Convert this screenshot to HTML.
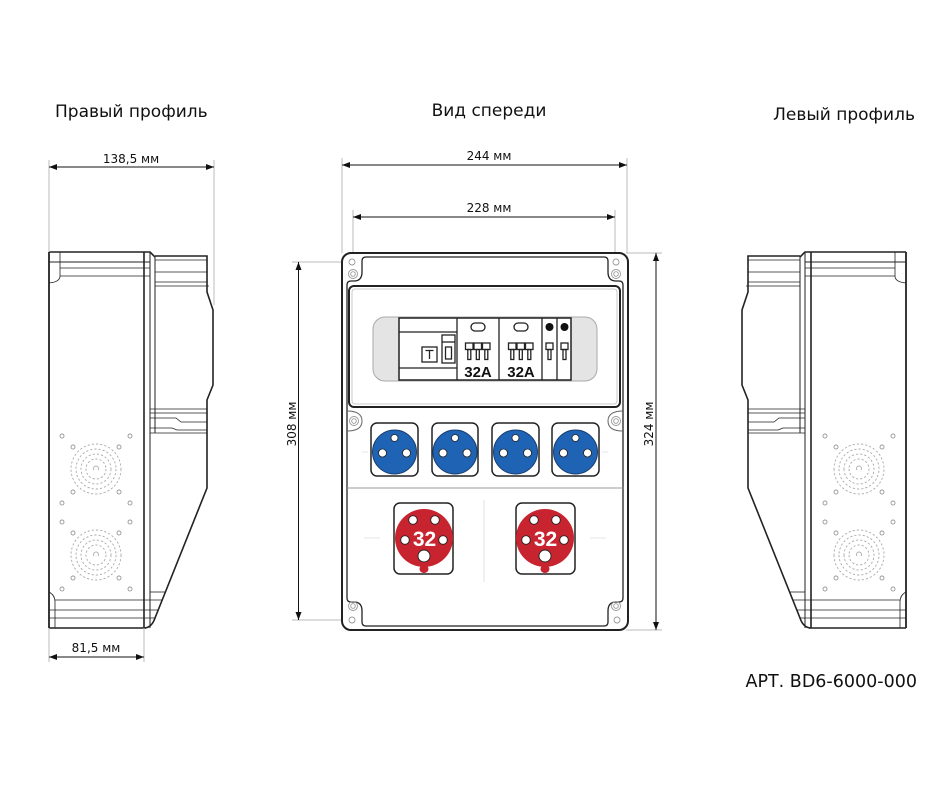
<!DOCTYPE html>
<html><head><meta charset="utf-8"><style>
html,body{margin:0;padding:0;background:#fff;}
svg{display:block;}
text{font-family:"DejaVu Sans","Liberation Sans",sans-serif;fill:#111;}
</style></head><body>
<svg width="940" height="800" viewBox="0 0 940 800" xmlns="http://www.w3.org/2000/svg">
<defs>
<marker id="ar" viewBox="0 0 8 6" refX="8" refY="3" markerWidth="8" markerHeight="6" markerUnits="userSpaceOnUse" orient="auto-start-reverse"><path d="M0,0 L8,3 L0,6 z" fill="#111"/></marker>
<g id="vent" fill="none">
  <g stroke="#999" stroke-width="0.9">
  <circle cx="-34" cy="-33" r="2"/><circle cx="34" cy="-33" r="2"/>
  <circle cx="-23" cy="-22" r="2"/><circle cx="23" cy="-22" r="2"/>
  <circle cx="-23" cy="23" r="2"/><circle cx="23" cy="23" r="2"/>
  <circle cx="-34" cy="34" r="2"/><circle cx="34" cy="34" r="2"/>
  </g>
  <g stroke="#aaa" stroke-width="0.9" stroke-dasharray="2.2,2">
  <circle r="25"/><circle r="20"/><circle r="15"/><circle r="10"/>
  </g>
  <path d="M-2,1 A2.5,2.5 0 1 1 2,1" stroke="#aaa" stroke-width="0.9"/>
</g>
<g id="prof" fill="none" stroke="#222">
  <!-- body -->
  <path d="M49,252 L150,252 L155,257" stroke-width="1.6"/>
  <line x1="49" y1="252" x2="49" y2="628" stroke-width="1.8"/>
  <line x1="144" y1="252" x2="144" y2="628" stroke-width="1.6"/>
  <line x1="150" y1="252" x2="150" y2="628" stroke-width="1"/>
  <line x1="49" y1="628" x2="146" y2="628" stroke-width="1.6"/>
  <line x1="49" y1="262" x2="150" y2="262" stroke-width="1"/>
  <line x1="60" y1="268" x2="150" y2="268" stroke-width="0.8"/>
  <line x1="60" y1="276" x2="150" y2="276" stroke-width="0.8"/>
  <path d="M60,252 L60,276 Q60,282 49,283" stroke-width="0.8"/>
  <line x1="55" y1="600" x2="162" y2="600" stroke-width="0.8"/>
  <line x1="49" y1="610" x2="158" y2="610" stroke-width="0.8"/>
  <line x1="49" y1="618" x2="155" y2="618" stroke-width="0.8"/>
  <path d="M49,592 Q55,595 55,602 L55,628" stroke-width="0.8"/>
  <line x1="150" y1="592" x2="165" y2="592" stroke-width="0.8"/>
  <!-- cover -->
  <path d="M155,256 L207,256 L207,292 L213,310 L213,385 L207,400 L207,488 L155,618 Q152,627 145,628" stroke-width="1.6"/>
  <line x1="155" y1="256" x2="155" y2="433" stroke-width="1"/>
  <line x1="155" y1="260" x2="207" y2="260" stroke-width="0.8"/>
  <line x1="155" y1="272" x2="207" y2="272" stroke-width="0.8"/>
  <line x1="155" y1="282" x2="207" y2="282" stroke-width="0.8"/>
  <line x1="155" y1="286" x2="209" y2="286" stroke-width="0.8"/>
  <line x1="150" y1="409" x2="207" y2="409" stroke-width="0.8"/>
  <line x1="150" y1="413" x2="207" y2="413" stroke-width="0.8"/>
  <path d="M150,418 L176,418 L181,422 L207,422" stroke-width="0.8"/>
  <path d="M150,428 L172,428 L177,430 L207,430" stroke-width="0.8"/>
  <line x1="150" y1="433" x2="207" y2="433" stroke-width="0.8"/>
  <use href="#vent" x="96" y="469"/>
  <use href="#vent" x="96" y="555"/>
</g>
</defs>

<!-- titles -->
<text x="55" y="117" font-size="17">Правый профиль</text>
<text x="489" y="116" font-size="17" text-anchor="middle">Вид спереди</text>
<text x="915" y="120" font-size="17" text-anchor="end">Левый профиль</text>
<text x="917" y="687" font-size="17.5" text-anchor="end">АРТ. BD6-6000-000</text>

<!-- left profile -->
<use href="#prof"/>
<g stroke="#bbb" stroke-width="1">
  <line x1="49" y1="160" x2="49" y2="252"/>
  <line x1="214" y1="160" x2="214" y2="305"/>
  <line x1="49" y1="628" x2="49" y2="662"/>
  <line x1="144" y1="628" x2="144" y2="662"/>
</g>
<line x1="49" y1="167" x2="214" y2="167" stroke="#111" stroke-width="1" marker-start="url(#ar)" marker-end="url(#ar)"/>
<text x="131" y="163" font-size="12" text-anchor="middle">138,5 мм</text>
<line x1="49" y1="657" x2="144" y2="657" stroke="#111" stroke-width="1" marker-start="url(#ar)" marker-end="url(#ar)"/>
<text x="96" y="652" font-size="12" text-anchor="middle">81,5 мм</text>

<!-- right profile (mirror) -->
<g transform="matrix(-1,0,0,1,955,0)"><use href="#prof"/></g>

<!-- front view dims -->
<g stroke="#bbb" stroke-width="1">
  <line x1="342" y1="158" x2="342" y2="253"/>
  <line x1="627" y1="158" x2="627" y2="253"/>
  <line x1="353" y1="210" x2="353" y2="253"/>
  <line x1="615" y1="210" x2="615" y2="253"/>
  <line x1="292" y1="262" x2="344" y2="262"/>
  <line x1="292" y1="620" x2="344" y2="620"/>
  <line x1="626" y1="253" x2="662" y2="253"/>
  <line x1="626" y1="630" x2="662" y2="630"/>
</g>
<g stroke="#111" stroke-width="1">
  <line x1="342" y1="165" x2="627" y2="165" marker-start="url(#ar)" marker-end="url(#ar)"/>
  <line x1="353" y1="217" x2="615" y2="217" marker-start="url(#ar)" marker-end="url(#ar)"/>
  <line x1="298.5" y1="262" x2="298.5" y2="620" marker-start="url(#ar)" marker-end="url(#ar)"/>
  <line x1="656" y1="253" x2="656" y2="630" marker-start="url(#ar)" marker-end="url(#ar)"/>
</g>
<text x="489" y="160" font-size="12" text-anchor="middle">244 мм</text>
<text x="489" y="212" font-size="12" text-anchor="middle">228 мм</text>
<text transform="translate(296,424) rotate(-90)" font-size="12" text-anchor="middle">308 мм</text>
<text transform="translate(653,424) rotate(-90)" font-size="12" text-anchor="middle">324 мм</text>

<!-- front box -->
<rect x="342" y="253" width="286" height="377" rx="9" fill="#fff" stroke="#222" stroke-width="2"/>
<path d="M366,257 L604,257 Q608,257 608,261 L608,272 Q608,281 616,281 L619,281 Q623,281 623,285 L623,598 Q623,602 619,602 L616,602 Q608,602 608,611 L608,622 Q608,626 604,626 L366,626 Q362,626 362,622 L362,611 Q362,602 354,602 L351,602 Q347,602 347,598 L347,285 Q347,281 351,281 L354,281 Q362,281 362,272 L362,261 Q362,257 366,257 Z" fill="none" stroke="#222" stroke-width="1.3"/>
<!-- mid bosses -->
<path d="M347,411 Q362,411 362,421 Q362,431 347,431" fill="none" stroke="#666" stroke-width="1"/>
<path d="M623,411 Q608,411 608,421 Q608,431 623,431" fill="none" stroke="#666" stroke-width="1"/>
<!-- screws -->
<g fill="none" stroke="#999" stroke-width="0.9">
  <circle cx="352" cy="262" r="3"/><circle cx="616" cy="262" r="3"/>
  <circle cx="353" cy="274" r="4.5"/><circle cx="353" cy="274" r="2.3"/>
  <circle cx="616" cy="274" r="4.5"/><circle cx="616" cy="274" r="2.3"/>
  <circle cx="354" cy="421" r="4.5"/><circle cx="354" cy="421" r="2.3"/>
  <circle cx="616" cy="421" r="4.5"/><circle cx="616" cy="421" r="2.3"/>
  <circle cx="353" cy="606" r="4.5"/><circle cx="353" cy="606" r="2.3"/>
  <circle cx="616" cy="606" r="4.5"/><circle cx="616" cy="606" r="2.3"/>
  <circle cx="352" cy="620" r="3"/><circle cx="617" cy="620" r="3"/>
</g>

<!-- window -->
<rect x="349" y="286" width="271" height="121" rx="5" fill="#fff" stroke="#222" stroke-width="2"/>
<rect x="352" y="289" width="265" height="115" rx="3" fill="none" stroke="#bbb" stroke-width="0.8"/>
<rect x="373" y="317" width="224" height="64" rx="12" fill="#e4e4e4" stroke="#aaa" stroke-width="1"/>
<rect x="399" y="318" width="172" height="62" fill="#fff" stroke="#222" stroke-width="1.5"/>
<g stroke="#222" stroke-width="1.3" fill="none">
  <line x1="457" y1="318" x2="457" y2="380"/>
  <line x1="499" y1="318" x2="499" y2="380"/>
  <line x1="542" y1="318" x2="542" y2="380"/>
  <line x1="557" y1="318" x2="557" y2="380"/>
  <line x1="399" y1="332" x2="457" y2="332"/>
  <line x1="399" y1="368" x2="457" y2="368"/>
  <rect x="422" y="347" width="15" height="15"/>
  <rect x="442" y="335" width="13" height="28"/>
  <line x1="442" y1="342" x2="455" y2="342"/>
  <rect x="445.5" y="347" width="6" height="12"/>
  <path d="M425.5,350.5 L433.5,350.5 M429.5,350.5 L429.5,359"/>
  <rect x="471" y="323" width="14" height="8" rx="4"/>
  <rect x="514" y="323" width="14" height="8" rx="4"/>
  <!-- toggles mod 2 -->
  <rect x="465.5" y="343" width="7.5" height="6.5"/><rect x="474" y="343" width="7.5" height="6.5"/><rect x="482.5" y="343" width="7.5" height="6.5"/>
  <rect x="467.8" y="349.5" width="3" height="10"/><rect x="476.3" y="349.5" width="3" height="10"/><rect x="484.8" y="349.5" width="3" height="10"/>
  <!-- toggles mod 3 -->
  <rect x="508.5" y="343" width="7.5" height="6.5"/><rect x="517" y="343" width="7.5" height="6.5"/><rect x="525.5" y="343" width="7.5" height="6.5"/>
  <rect x="510.8" y="349.5" width="3" height="10"/><rect x="519.3" y="349.5" width="3" height="10"/><rect x="527.8" y="349.5" width="3" height="10"/>
  <!-- mod 4/5 -->
  <rect x="546" y="343" width="7" height="6.5"/><rect x="548" y="349.5" width="3" height="10"/>
  <rect x="561" y="343" width="7" height="6.5"/><rect x="563" y="349.5" width="3" height="10"/>
</g>
<circle cx="549.5" cy="327" r="4" fill="#111"/>
<circle cx="564.5" cy="327" r="4" fill="#111"/>
<text x="478" y="377" font-size="15" font-weight="bold" text-anchor="middle" style="font-family:'Liberation Sans',sans-serif">32A</text>
<text x="521" y="377" font-size="15" font-weight="bold" text-anchor="middle" style="font-family:'Liberation Sans',sans-serif">32A</text>

<!-- dividers -->
<line x1="347" y1="488" x2="623" y2="488" stroke="#999" stroke-width="1"/>
<line x1="484" y1="500" x2="484" y2="582" stroke="#e2e2e2" stroke-width="1"/>
<g stroke="#e6e6e6" stroke-width="1">
  <line x1="364" y1="538" x2="380" y2="538"/><line x1="590" y1="538" x2="606" y2="538"/>
  <line x1="362" y1="452" x2="368" y2="452"/><line x1="602" y1="452" x2="608" y2="452"/>
</g>

<!-- blue sockets -->
<g>
  <rect x="371" y="423" width="47" height="53" rx="6" fill="#fff" stroke="#222" stroke-width="1.5"/>
  <rect x="432" y="423" width="46" height="53" rx="6" fill="#fff" stroke="#222" stroke-width="1.5"/>
  <rect x="492" y="423" width="47" height="53" rx="6" fill="#fff" stroke="#222" stroke-width="1.5"/>
  <rect x="552" y="423" width="47" height="53" rx="6" fill="#fff" stroke="#222" stroke-width="1.5"/>
  <g fill="#1f63b4" stroke="#1a3f70" stroke-width="1">
    <circle cx="394.5" cy="452" r="22"/><circle cx="455" cy="452" r="22"/>
    <circle cx="515.5" cy="452" r="22"/><circle cx="575.5" cy="452" r="22"/>
  </g>
  <g fill="#fff" stroke="#222" stroke-width="0.8">
    <circle cx="394.5" cy="438" r="3.5"/><circle cx="382.5" cy="453" r="4"/><circle cx="406.5" cy="453" r="4"/>
    <circle cx="455" cy="438" r="3.5"/><circle cx="443" cy="453" r="4"/><circle cx="467" cy="453" r="4"/>
    <circle cx="515.5" cy="438" r="3.5"/><circle cx="503.5" cy="453" r="4"/><circle cx="527.5" cy="453" r="4"/>
    <circle cx="575.5" cy="438" r="3.5"/><circle cx="563.5" cy="453" r="4"/><circle cx="587.5" cy="453" r="4"/>
  </g>
</g>

<!-- red sockets -->
<g>
  <rect x="394" y="503" width="59" height="71" rx="6" fill="#fff" stroke="#222" stroke-width="1.5"/>
  <rect x="516" y="503" width="59" height="71" rx="6" fill="#fff" stroke="#222" stroke-width="1.5"/>
  <g fill="#c8242f">
    <circle cx="424" cy="538" r="29"/><circle cx="545" cy="538" r="29"/>
    <ellipse cx="424" cy="569" rx="4.5" ry="4"/><ellipse cx="545" cy="569" rx="4.5" ry="4"/>
  </g>
  <g fill="#fff" stroke="#222" stroke-width="0.9">
    <circle cx="413" cy="520" r="4.3"/><circle cx="435" cy="520" r="4.3"/>
    <circle cx="405" cy="540" r="4.3"/><circle cx="443" cy="540" r="4.3"/>
    <circle cx="424" cy="556" r="6"/>
    <circle cx="534" cy="520" r="4.3"/><circle cx="556" cy="520" r="4.3"/>
    <circle cx="526" cy="540" r="4.3"/><circle cx="564" cy="540" r="4.3"/>
    <circle cx="545" cy="556" r="6"/>
  </g>
  <text x="424.5" y="546" font-size="21" font-weight="bold" text-anchor="middle" style="font-family:'Liberation Sans',sans-serif;fill:#fff">32</text>
  <text x="545.5" y="546" font-size="21" font-weight="bold" text-anchor="middle" style="font-family:'Liberation Sans',sans-serif;fill:#fff">32</text>
</g>
</svg>
</body></html>
